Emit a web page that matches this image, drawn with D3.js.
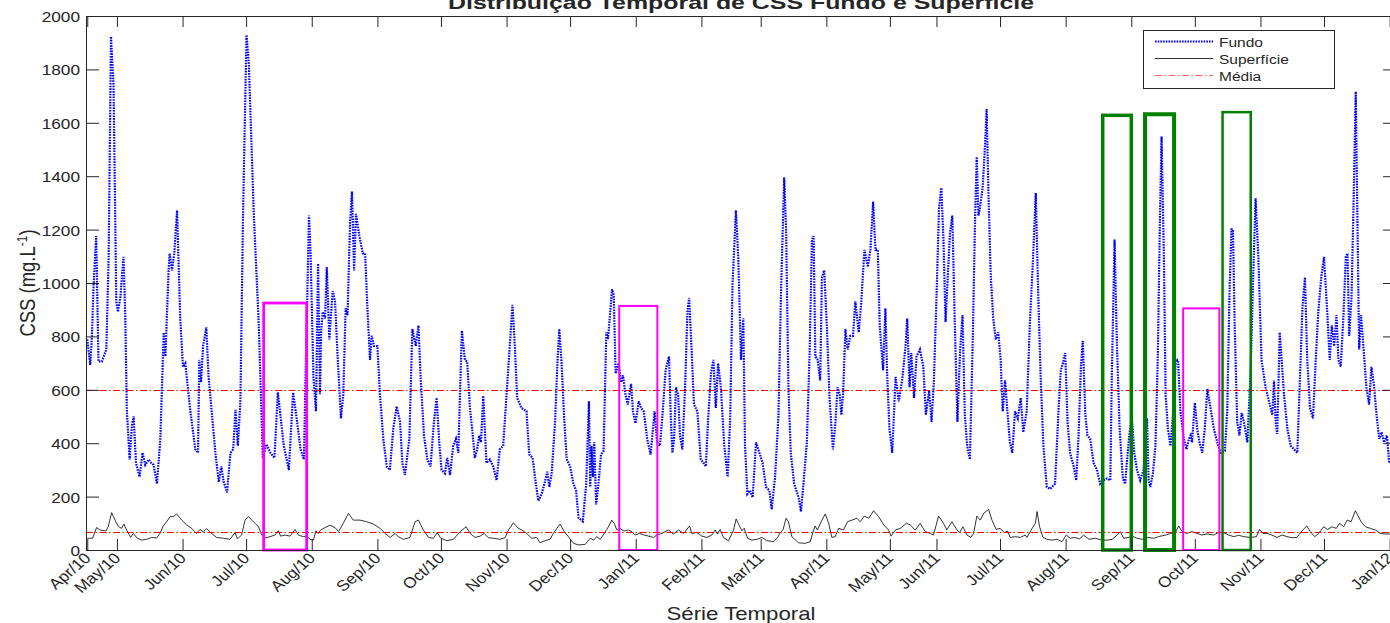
<!DOCTYPE html>
<html><head><meta charset="utf-8">
<script src="https://cdn.jsdelivr.net/npm/d3@7"></script>
<style>
body{margin:0;background:#fff}
svg{display:block}
text{font-family:"Liberation Sans",Arial,Helvetica,sans-serif;fill:#262626}
</style>
</head><body>
<svg id="c" width="1390" height="623"></svg>
<script>
// ---------------- DATA ----------------
// x positions are sample indices (daily series, one gap in May/11)
const tickIdx = [0,14,45,75,106,137,167,198,228,259,290,318,349,379,401,431,462,493,523,554,584,615];
const tickLabels = ["Apr/10","May/10","Jun/10","Jul/10","Aug/10","Sep/10","Oct/10","Nov/10","Dec/10","Jan/11","Feb/11","Mar/11","Apr/11","May/11","Jun/11","Jul/11","Aug/11","Sep/11","Oct/11","Nov/11","Dec/11","Jan/12"];
const yTicks = [0,200,400,600,800,1000,1200,1400,1600,1800,2000];
const seriesNames = ["Fundo","Superfície","Média"];

const fundo = [[0,789],[1.4,693],[2.2,802],[3.0,995],[4.2,1176],[5.3,706],[6.9,706],[9.0,751],[10.1,1098],[11.2,1923],[12.4,1742],[13.7,931],[14.5,892],[15.6,944],[17.1,1098],[17.9,892],[18.7,519],[20.0,339],[21.1,467],[21.9,500],[23.0,326],[24.7,274],[26.1,364],[27.4,319],[29.0,339],[30.2,326],[31.3,319],[32.9,248],[34.5,416],[36.1,815],[36.9,725],[38.4,1047],[38.9,1111],[40.0,1047],[41.1,1111],[42.4,1272],[43.9,867],[45.2,686],[46.3,699],[48.7,519],[51.0,377],[52.3,364],[52.9,712],[53.7,628],[54.7,764],[56.2,834],[57.3,648],[58.9,506],[60.5,364],[62.1,255],[63.3,313],[64.4,255],[66.0,216],[67.6,364],[68.9,377],[70.0,525],[71.1,390],[72.3,557],[73.6,1279],[75.2,1929],[76.3,1820],[78.6,1266],[81.0,841],[82.9,345],[84.6,396],[86.5,364],[88.4,345],[90.0,590],[91.2,506],[92.8,390],[95.2,300],[97.2,590],[99.1,480],[100.7,377],[102.3,339],
[102.9,583],[103.6,841],[104.7,1253],[105.5,1098],[106.8,648],[108.0,519],[109.0,1073],[109.9,583],[110.4,815],[111.2,892],[112.3,867],[113.1,1060],[114.3,789],[115.9,970],[117.0,931],[118.3,712],[119.8,493],[120.9,583],[122.0,905],[122.9,879],[124.1,1227],[125.0,1343],[126.0,1047],[126.9,1259],[128.5,1176],[130.1,1111],[131.2,1111],[132.3,905],[133.5,712],[134.3,802],[135.4,764],[137.0,764],[138.2,583],[139.8,416],[141.4,313],[142.9,300],[144.5,454],[146.1,538],[147.7,480],[148.8,326],[150.0,281],[152.1,416],[153.5,828],[155.1,764],[156.4,841],[157.4,648],[159.0,429],[160.6,339],[162.1,313],[163.7,480],[165.0,570],[166.2,403],[167.3,300],[168.9,287],[170.0,345],[171.3,281],[172.8,390],[174.1,416],[175.2,364],[176.0,583],[176.9,822],[178.3,712],[179.4,706],[180.7,532],[181.9,441],[183.0,345],[184.1,377],[185.1,429],[185.9,403],[187.0,577],[188.5,326],[190.1,339],[191.7,313],[193.3,261],[194.8,377],[196.4,390],[198.0,583],[199.5,764],[200.8,918],[201.9,764],[203.0,570],[205.0,532],
[207.4,520],[208.7,358],[210.3,345],[211.4,274],[213.0,184],[214.6,210],[216.1,255],[217.2,293],[218.2,236],[219.3,287],[220.9,480],[222.0,699],[222.9,828],[224.0,699],[225.2,493],[226.4,339],[228.0,313],[229.6,248],[230.8,223],[232.0,120],[234.0,107],[235.6,248],[236.9,557],[237.5,236],[238.1,390],[238.8,274],[239.4,403],[240.3,171],[241.4,248],[242.6,358],[243.8,371],[245.1,815],[245.9,789],[246.7,867],[247.8,976],[248.6,956],[249.5,661],[250.9,699],[252.1,628],[253.0,654],[254.1,583],[255.2,545],[256.8,622],[257.7,519],[258.9,474],[260.4,557],[261.5,532],[262.8,519],[264.4,416],[266.0,358],[267.9,519],[269.1,403],[270.4,390],[271.5,493],[273.1,673],[274.7,725],[275.5,506],[276.3,364],[277.1,416],[278.0,609],[279.0,583],[279.9,429],[281.0,377],[282.3,609],[283.4,892],[284.2,944],[285.3,764],[286.5,545],[288.1,519],[289.7,339],[291.0,326],[292.1,313],[293.2,493],[294.5,661],[295.7,712],[296.8,532],[297.9,699],[299.2,609],[300.8,390],[302.4,274],[303.6,493],[304.7,995],[306.3,1272],[307.4,1098],[308.7,712],[309.8,867],
[310.6,390],[311.7,210],[312.9,223],[314.2,197],[315.8,403],[317.4,364],[318.9,326],[320.5,236],[322.1,223],[323.2,152],[324.8,274],[326.4,506],[327.6,970],[329.1,1395],[330.0,1201],[331.1,609],[332.2,364],[333.8,248],[335.9,197],[337.0,145],[338.2,248],[339.8,403],[341.1,738],[342.2,1163],[343.0,1176],[343.8,725],[344.9,712],[346.1,635],[346.9,1021],[348.0,1047],[349.3,828],[350.5,570],[352.1,377],[353.2,467],[354.3,609],[355.3,583],[356.1,506],[356.9,583],[358.0,828],[359.1,751],[360.3,802],[361.6,802],[362.7,931],[364.3,815],[365.4,918],[367.0,1124],[368.6,1060],[369.8,1124],[371.1,1305],[372.2,1124],[373.3,1124],[374.2,841],[375.8,673],[376.9,905],[377.7,661],[378.8,454],[380.1,364],[381.7,648],[383.2,557],[384.8,635],[386.4,764],[387.2,867],[388.3,609],[389.1,738],[390.4,570],[391.6,725],[393.2,751],[394.8,686],[396.0,506],[397.5,596],[398.7,480],[399.8,635],[401.1,970],[402.2,1279],[403.3,1356],[404.3,1163],[405.3,854],[406.4,1034],[407.4,1189],[408.5,1253],[409.6,867],[410.9,480],[412.2,751],[413.3,880],
[414.4,506],[415.5,390],[416.8,339],[418.1,776],[419.2,1227],[420.0,1472],[420.8,1253],[421.5,1279],[422.8,1356],[423.9,1511],[424.7,1652],[425.5,1356],[426.6,1034],[427.8,867],[429.0,789],[430.2,815],[431.3,712],[432.3,519],[433.4,635],[434.5,519],[435.7,403],[436.8,364],[438.1,519],[439.4,493],[440.8,570],[442.0,441],[443.6,519],[445.2,867],[446.5,1073],[447.9,1337],[449.1,944],[450.2,648],[451.5,390],[453.1,236],[454.7,229],[457.0,248],[458.6,519],[459.7,673],[460.7,699],[461.8,738],[462.9,480],[464.1,364],[465.8,313],[467.0,261],[468.1,429],[469.2,686],[470.1,783],[471.3,506],[472.3,429],[473.6,416],[475.2,326],[476.8,300],[478.3,248],[479.9,261],[481.5,268],[483.1,261],[483.8,648],[485.1,1163],[486.2,776],[487.5,454],[489.0,268],[490.1,248],[490.9,326],[492.2,441],[493.3,493],[494.4,364],[495.7,300],[497.2,261],[498.8,300],[499.6,416],[500.4,493],[501.2,261],[502.0,236],[503.2,287],[504.4,390],[505.5,712],[506.5,1227],[507.3,1549],[508.4,1098],[509.2,583],[510.3,454],[511.5,390],[512.8,519],[514.0,712],
[515.1,712],[516.2,519],[517.8,416],[519.1,377],[520.2,416],[521.0,429],[521.7,403],[523.0,551],[524.1,454],[525.2,403],[526.5,364],[527.7,454],[528.9,603],[530.4,532],[532.0,454],[533.6,403],[535.1,364],[537.2,371],[538.3,519],[539.4,970],[540.3,1201],[541.0,1201],[541.8,854],[543.0,480],[544.1,429],[545.1,513],[546.2,480],[547.8,403],[549.3,661],[550.6,1034],[551.7,1317],[553.0,1098],[554.5,712],[556.4,609],[558.0,557],[559.6,506],[560.4,635],[561.2,480],[561.9,435],[563.1,815],[564.0,712],[565.1,583],[566.7,454],[568.3,390],[569.8,377],[571.4,364],[572.5,609],[573.8,905],[575.0,1021],[576.1,712],[577.4,532],[578.8,493],[580.1,712],[581.3,892],[582.7,1021],[584.0,1098],[585.6,880],[586.7,712],[587.7,841],[588.8,764],[589.9,880],[590.8,712],[591.9,686],[593.2,880],[594.3,1098],[595.1,1111],[595.9,802],[597.0,944],[597.9,1279],[599.0,1717],[599.8,1227],[600.6,751],[601.5,880],[602.6,764],[604.0,609],[605.3,545],[606.4,686],[607.7,609],[608.8,506],[610.1,416],[611.2,441],[612.4,403],[613.7,429],[614.8,326],[616.2,330]];

const superficie = [[0,44],[2.5,44],[4.4,84],[6.0,75],[8.8,71],[9.9,87],[11.5,140],[13.1,112],[14.7,88],[16.2,81],[17.3,97],[18.6,75],[20.5,47],[21.7,62],[23.6,44],[25.7,37],[28.0,40],[30.4,47],[32.8,45],[34.3,62],[35.9,90],[37.5,106],[39.1,125],[40.6,125],[42.2,135],[44.6,112],[46.9,94],[49.3,81],[51.6,62],[53.2,77],[54.8,68],[56.4,80],[58.7,62],[61.1,47],[64.2,44],[67.4,40],[69.8,65],[70.9,42],[72.9,56],[74.5,112],[76.1,125],[78.4,106],[80.8,88],[82.4,56],[83.9,45],[86.3,50],[88.6,56],[90.2,72],[91.3,52],[93.4,56],[95.7,52],[98.1,77],[99.7,56],[102.0,50],[103.6,52],[105.2,40],[106.8,37],[108.0,72],[109.1,62],[110.2,75],[112.3,84],[114.6,93],[117.0,84],[118.6,69],[120.9,100],[123.3,137],[125.6,112],[128.8,112],[131.9,106],[135.1,97],[138.3,81],[140.6,62],[143.0,47],[145.4,62],[146.9,50],[149.3,40],[152.4,47],[154.8,106],[156.4,112],[158.7,75],[161.1,47],[163.4,44],[165.3,65],[166.9,44],[169.8,35],[172.9,40],
[176.1,69],[178.9,87],[180.8,62],[183.1,47],[185.5,52],[187.4,62],[189.4,46],[191.8,44],[194.9,40],[197.3,46],[198.9,75],[201.2,102],[203.6,81],[205.2,75],[207.5,62],[209.9,44],[212.2,47],[213.8,27],[216.2,35],[218.5,40],[220.1,62],[221.7,81],[223.3,97],[225.2,69],[227.2,50],[229.6,25],[232.0,19],[235.1,21],[237.5,44],[239.1,37],[240.6,50],[242.2,40],[244.1,62],[246.1,87],[247.7,112],[248.8,100],[250.1,75],[251.6,80],[253.5,71],[255.5,75],[257.1,69],[258.7,56],[260.7,62],[262.6,57],[265.0,52],[267.4,47],[268.9,56],[271.3,62],[274.4,75],[276.8,60],[279.2,75],[281.6,62],[284.4,90],[285.5,62],[287.8,66],[290.2,52],[292.6,47],[294.9,56],[296.5,75],[297.6,60],[298.9,77],[300.4,47],[302.8,34],[305.2,75],[306.4,116],[308.0,90],[309.1,72],[310.2,81],[311.8,44],[313.8,37],[316.2,40],[318.6,47],[320.9,35],[324.1,31],[326.0,47],[327.2,65],[328.5,75],[330.0,119],[331.1,106],[332.7,50],[335.9,27],[339.0,25],[341.4,31],[342.6,65],[343.7,90],[344.8,75],[346.9,112],[348.5,135],[350.1,100],[351.6,47],[353.2,50],[354.8,81],[357.1,75],[359.0,106],[361.1,112],[363.4,119],[365.0,106],[366.9,127],[369.0,119],[371.3,147],[373.7,125],[376.1,94],[378.4,75],[379.5,52],[381.6,75],[383.9,81],[386.8,100],[388.6,94],[391.0,75],
[393.3,100],[395.7,69],[398.1,62],[399.6,56],[402.0,127],[404.3,100],[405.9,75],[408.3,106],[410.7,75],[411.9,65],[413.5,87],[415.4,56],[417.3,47],[418.5,62],[420.1,127],[421.7,112],[423.3,137],[425.6,152],[427.2,112],[429.2,77],[431.1,81],[433.0,65],[434.6,71],[435.8,47],[438.2,50],[440.6,47],[442.9,56],[443.7,47],[446.2,81],[447.7,100],[448.5,144],[449.7,87],[451.3,47],[453.2,40],[455.5,37],[457.9,40],[460.3,31],[462.3,56],[464.2,44],[466.1,47],[468.6,42],[470.5,56],[473.0,40],[476.0,44],[479.2,37],[481.5,37],[483.9,40],[486.3,56],[487.8,69],[489.4,44],[491.8,47],[493.3,52],[495.7,44],[498.1,40],[500.9,47],[503.6,44],[505.9,50],[509.1,56],[511.5,62],[513.8,65],[515.4,90],[517.0,69],[519.3,62],[521.7,69],[524.0,62],[526.4,56],[528.8,60],[531.9,56],[534.0,65],[536.6,65],[539.0,56],[541.4,50],[543.7,55],[546.1,50],[549.2,47],[552.1,50],[553.6,77],[555.2,62],[557.1,62],[559.4,56],[561.8,47],[564.2,56],[566.5,50],[568.9,46],[571.2,47],[574.0,75],[575.9,90],[577.5,69],[579.6,50],[581.5,62],[583.8,87],[585.7,77],[587.8,87],[589.8,81],[591.4,100],[593.3,87],[594.9,112],[596.8,106],[598.8,147],[599.9,131],[601.5,106],[603.6,87],[605.9,81],[608.3,75],[610.6,62],[613.0,60],[615.3,60],[616.5,58]];

const meanValues = [600, 66];            // Média of Fundo, Média of Superfície
const boxStart = [83.3, 251.2, 517.5, 479.5, 499.5, 536.1];
const boxEnd   = [103.6, 269.2, 534.6, 493.0, 513.2, 549.4];
const boxTop   = [925, 914, 905, 1628, 1632, 1640];

// ---------------- STYLE / LAYOUT ----------------
const boxStyle = [
  {c:"#ff00ff", w:2.8},{c:"#ff00ff", w:2},{c:"#ff00ff", w:2},
  {c:"#008000", w:3.5},{c:"#008000", w:4},{c:"#008000", w:2.5}];
const L=86, R=1396, T=16, B=550;
const AX="#262626";
const SX=1.15; // horizontal text stretch of the reference

const svg = d3.select("#c");
const x = d3.scaleLinear().domain([-0.6, 618]).range([L, R]);
const y = d3.scaleLinear().domain([0, 2000]).range([B, T]);

svg.append("defs").append("clipPath").attr("id","clip")
  .append("rect").attr("x",L).attr("y",T).attr("width",R-L).attr("height",B-T);

const plot = svg.append("g").attr("clip-path","url(#clip)");
const line = d3.line().x(d=>x(d[0])).y(d=>y(d[1]));

plot.append("path").datum(fundo).attr("d",line)
  .attr("fill","none").attr("stroke","#0000ff").attr("stroke-width",2.2)
  .attr("stroke-dasharray","1.6,1.1");
plot.append("path").datum(superficie).attr("d",line)
  .attr("fill","none").attr("stroke","#000").attr("stroke-width",0.8);
plot.selectAll("line.mean").data(meanValues).join("line").attr("class","mean")
  .attr("x1",L).attr("x2",R).attr("y1",d=>Math.round(y(d))+0.5).attr("y2",d=>Math.round(y(d))+0.5)
  .attr("stroke","#ff0000").attr("stroke-width",1).attr("stroke-dasharray","7,2.5,1.5,2.5");

// annotation boxes
svg.selectAll("rect.box").data(boxStart).join("rect").attr("class","box")
  .attr("x",(d,i)=>x(d)).attr("width",(d,i)=>x(boxEnd[i])-x(d))
  .attr("y",(d,i)=>y(boxTop[i])).attr("height",(d,i)=>y(0)-y(boxTop[i]))
  .attr("fill","none").attr("stroke",(d,i)=>boxStyle[i].c).attr("stroke-width",(d,i)=>boxStyle[i].w);

// axes
const gx = svg.append("g").attr("transform",`translate(0,${B})`)
  .call(d3.axisBottom(x).tickValues(tickIdx).tickFormat((d,i)=>tickLabels[i]).tickSizeInner(-11).tickSizeOuter(0));
gx.select(".domain").remove();
gx.selectAll(".tick line").attr("stroke",AX);
gx.selectAll(".tick text").attr("x",0).attr("y",0).attr("dy",0)
  .attr("text-anchor","end").attr("font-size",15).attr("fill",AX)
  .attr("transform",`translate(4,9) scale(${SX},1) rotate(-45)`);

const gxt = svg.append("g").attr("transform",`translate(0,${T})`)
  .call(d3.axisTop(x).tickValues(tickIdx).tickFormat("").tickSizeInner(-11).tickSizeOuter(0));
gxt.select(".domain").remove();
gxt.selectAll(".tick line").attr("stroke",AX);

const gy = svg.append("g").attr("transform",`translate(${L},0)`)
  .call(d3.axisLeft(y).tickValues(yTicks).tickFormat(d3.format("d")).tickSizeInner(-13).tickSizeOuter(0));
gy.select(".domain").remove();
gy.selectAll(".tick line").attr("stroke",AX);
gy.selectAll(".tick text").attr("x",0).attr("dy","0.36em")
  .attr("font-size",15).attr("fill",AX).attr("text-anchor","end")
  .attr("transform",`translate(-6,0) scale(${SX},1)`);

const gyr = svg.append("g").attr("transform",`translate(${R},0)`)
  .call(d3.axisRight(y).tickValues(yTicks).tickFormat("").tickSizeInner(-13).tickSizeOuter(0));
gyr.select(".domain").remove();
gyr.selectAll(".tick line").attr("stroke",AX);

svg.append("rect").attr("x",L+0.5).attr("y",T+0.5).attr("width",R-L).attr("height",B-T)
  .attr("fill","none").attr("stroke",AX).attr("stroke-width",1);

// titles
svg.append("text").attr("x",(L+R)/2-0).attr("y",8.5).attr("text-anchor","middle")
  .attr("font-size",19).attr("font-weight","bold").attr("fill","#000")
  .attr("textLength",586).attr("lengthAdjust","spacingAndGlyphs")
  .text("Distribuição Temporal de CSS Fundo e Superfície");
svg.append("text").attr("x",741).attr("y",620).attr("text-anchor","middle")
  .attr("font-size",18.5).attr("fill",AX)
  .attr("textLength",149).attr("lengthAdjust","spacingAndGlyphs")
  .text("Série Temporal");
const yl = svg.append("text").attr("text-anchor","middle").attr("font-size",18.5).attr("fill",AX)
  .attr("transform",`translate(35,283) scale(${SX},1) rotate(-90)`);
yl.append("tspan").text("CSS (mg.L");
yl.append("tspan").attr("font-size",12).attr("dy",-7).text("-1");
yl.append("tspan").attr("dy",7).text(")");

// legend
const lg = svg.append("g");
lg.append("rect").attr("x",1143.5).attr("y",30.5).attr("width",191).attr("height",58)
  .attr("fill","#fff").attr("stroke",AX).attr("stroke-width",1);
const legY = [41.5, 58.5, 75.5];
const legStyle = [
  {c:"#0000ff", w:2.2, da:"1.6,1.1"},
  {c:"#000000", w:0.8, da:"none"},
  {c:"#ff6060", w:1.2, da:"7,2.5,1.5,2.5"}];
seriesNames.forEach((n,i)=>{
  lg.append("path").attr("d",`M1155,${legY[i]}H1213`)
    .style("fill","none")
    .style("stroke",legStyle[i].c).style("stroke-width",legStyle[i].w)
    .style("stroke-dasharray",legStyle[i].da);
  lg.append("text").attr("font-size",13.5).attr("fill",AX)
    .attr("transform",`translate(1219,${legY[i]+5}) scale(${SX},1)`).text(n);
});
</script>
</body></html>
